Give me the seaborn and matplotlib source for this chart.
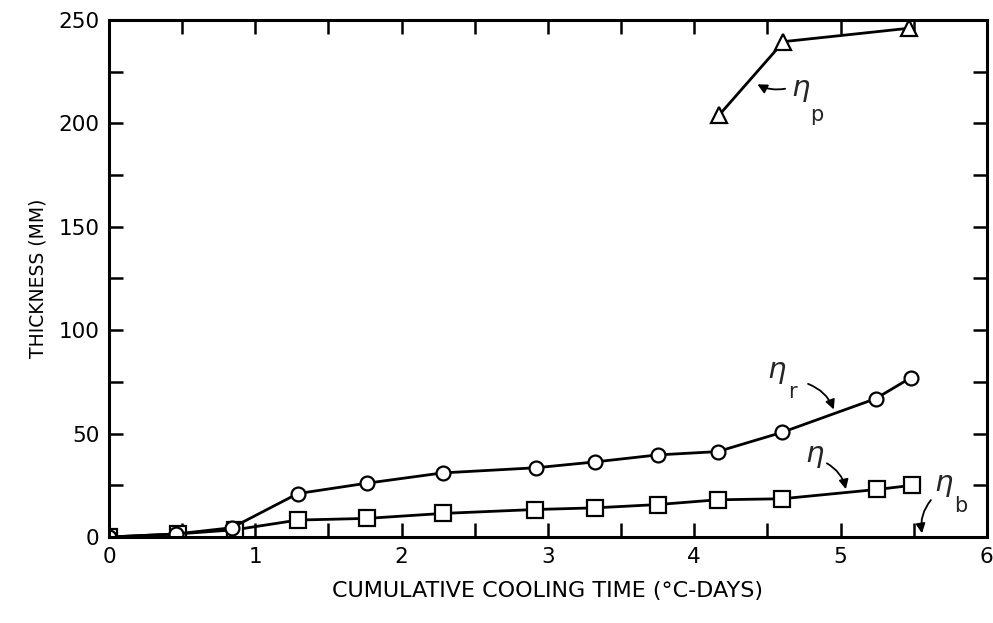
import matplotlib
matplotlib.use("Agg")
import matplotlib.pyplot as plt
import seaborn as sns
import pandas as pd
from matplotlib.ticker import MultipleLocator

# --- data ---
x_r = [0.0, 0.46, 0.84, 1.29, 1.76, 2.28, 2.92, 3.32, 3.75, 4.16, 4.60, 5.24, 5.48]
y_r = [0.0, 1.5, 4.5, 21.0, 26.0, 31.0, 33.5, 36.3, 39.7, 41.3, 50.6, 66.9, 77.0]

x_eta = [0.0, 0.47, 0.86, 1.29, 1.76, 2.28, 2.91, 3.32, 3.75, 4.16, 4.60, 5.25, 5.49]
y_eta = [0.0, 1.5, 3.5, 8.2, 9.0, 11.4, 13.3, 14.1, 15.7, 18.0, 18.5, 23.0, 25.0]

x_p = [4.17, 4.61, 5.47]
y_p = [204.0, 239.5, 246.0]

x_ticks = [0, 1, 2, 3, 4, 5, 6]
y_ticks = [0, 50, 100, 150, 200, 250]

sns.set_style("ticks")
plt.rcParams["font.family"] = ["DejaVu Sans"]

fig = plt.figure(figsize=(9.93, 6.23), dpi=100)
ax = fig.add_axes([0.1098, 0.138, 0.884, 0.830])

df_r = pd.DataFrame({"x": x_r, "y": y_r})
df_eta = pd.DataFrame({"x": x_eta, "y": y_eta})
df_p = pd.DataFrame({"x": x_p, "y": y_p})

common = dict(color="black", linewidth=2.0, markerfacecolor="white",
              markeredgecolor="black", markeredgewidth=1.6, ax=ax, sort=False)
sns.lineplot(data=df_eta, x="x", y="y", marker="s", markersize=11, **common)
sns.lineplot(data=df_r, x="x", y="y", marker="o", markersize=10, **common)
sns.lineplot(data=df_p, x="x", y="y", marker="^", markersize=11, **common)

ax.set_xlim(0, 6)
ax.set_ylim(0, 250)
ax.set_xticks(x_ticks)
ax.set_yticks(y_ticks)
ax.xaxis.set_minor_locator(MultipleLocator(0.5))
ax.yaxis.set_minor_locator(MultipleLocator(25))
ax.tick_params(which="both", direction="in", top=True, right=True,
               width=1.8, labelsize=15.5, colors="black", labelcolor="black")
ax.tick_params(which="major", length=10, pad=7)
ax.tick_params(which="minor", length=10)
for s in ax.spines.values():
    s.set_linewidth(2.2)
    s.set_color("black")

ax.set_xlabel("CUMULATIVE COOLING TIME (°C-DAYS)", fontsize=16, labelpad=10,
              color="black")
ax.set_ylabel("THICKNESS (MM)", fontsize=13.5, labelpad=8, color="black")

arrow = dict(arrowstyle="-|>", color="black", lw=1.3, mutation_scale=14)
ax.annotate("", xy=(4.415, 219.5), xytext=(4.64, 217),
            arrowprops=dict(connectionstyle="arc3,rad=-0.2", **arrow))
ax.text(4.66, 216, r"$\eta$", fontsize=21, va="center", ha="left")
ax.text(4.79, 204, "p", fontsize=15, va="center", ha="left")

ax.annotate("", xy=(4.96, 60.4), xytext=(4.76, 74.5),
            arrowprops=dict(connectionstyle="arc3,rad=-0.25", **arrow))
ax.text(4.50, 80, r"$\eta$", fontsize=21, va="center", ha="left")
ax.text(4.645, 70, "r", fontsize=15, va="center", ha="left")

ax.annotate("", xy=(5.04, 21.8), xytext=(4.89, 36.3),
            arrowprops=dict(connectionstyle="arc3,rad=-0.25", **arrow))
ax.text(4.76, 39, r"$\eta$", fontsize=21, va="center", ha="left")

ax.annotate("", xy=(5.56, 0.5), xytext=(5.63, 18.9),
            arrowprops=dict(connectionstyle="arc3,rad=0.25", **arrow))
ax.text(5.64, 25, r"$\eta$", fontsize=21, va="center", ha="left")
ax.text(5.775, 15, "b", fontsize=15, va="center", ha="left")

fig.savefig("out.png", dpi=100)
